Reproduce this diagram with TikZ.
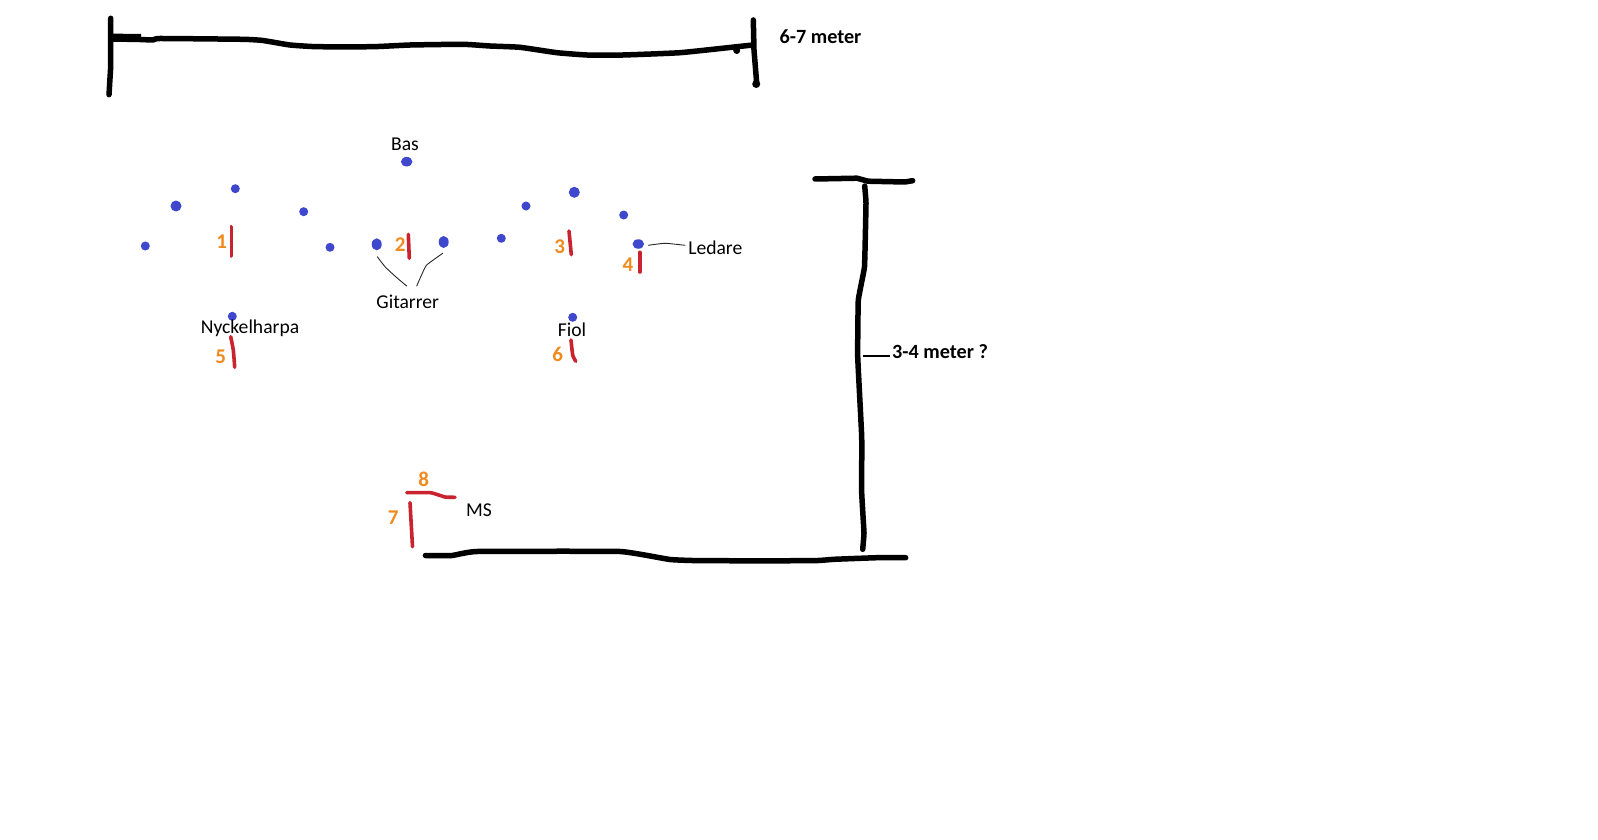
\documentclass[tikz,border=0pt]{standalone}
\usepackage{fontspec}
\setmainfont{Carlito}
\usetikzlibrary{shapes.geometric}
\definecolor{dotblue}{HTML}{3F48CC}
\definecolor{markred}{HTML}{C8232E}
\definecolor{numorange}{HTML}{F08A1D}
\tikzset{
  ink/.style={line width=5.5pt,line cap=round,line join=round,black},
  mark stroke/.style={line width=3.6pt,line cap=round,line join=round,markred},
  thin ink/.style={line width=0.9pt,line cap=round,black!85},
  dot/.style={ellipse,fill=dotblue,inner sep=0pt,minimum width=#1,minimum height=#1},
  dot/.default=9pt,
  wide dot/.style={ellipse,fill=dotblue,inner sep=0pt,minimum width=11.5pt,minimum height=9.5pt},
  tall dot/.style={ellipse,fill=dotblue,inner sep=0pt,minimum width=10pt,minimum height=12pt},
  lbl/.style={inner sep=0pt,font=\fontsize{19.6}{22}\selectfont,text=black},
  dim/.style={inner sep=0pt,font=\fontsize{20.2}{22}\selectfont\bfseries,text=black},
  num/.style={inner sep=0pt,font=\fontsize{21}{22}\selectfont\bfseries,text=numorange},
}
\begin{document}
\begin{tikzpicture}[x=1pt,y=-1pt]
\useasboundingbox (0,0) rectangle (1598,840);
% width dimension
\draw[ink] (110.7,18.3) -- (110.7,66.7) -- (109,94.7);
\draw[ink,line width=8pt,line cap=butt] (112,37.6) -- (141,38);
\draw[ink] plot[smooth,tension=0.25] coordinates {(113,39) (140,39.5) (153,40) (160,38.5) (243,39.3) (263,40.5) (290,45) (317,46.7) (373,46.7) (410,45) (463,44.3) (490,46) (520,47.3) (557,52.7) (587,55) (623,55) (680,52.7) (737,46.7) (753,45)};
\draw[ink] (753.3,20) -- (754,50) -- (756.7,83.3);
\fill (736.7,50.5) circle (3.5pt);
\fill (756.2,84) circle (4pt);
\node[dim] (widthlabel) at (820.5,36.8) {6-7 meter};
% depth dimension
\draw[ink] (815,179) -- (857,178.2) -- (868,181.2) -- (905,182) -- (912.7,180.7);
\draw[ink] plot[smooth,tension=0.15] coordinates {(864.7,186) (866,203.3) (864.5,266.7) (858.3,300) (857.7,356.7) (861.7,436.7) (861.7,493) (864,533) (862.7,549.3)};
\draw[ink] plot[smooth,tension=0.2] coordinates {(425.4,555.5) (452,555.5) (477,551.5) (620,551.5) (670,559.5) (702,560.7) (813,560.7) (834,559.3) (877,557.7) (905.7,557.7)};
\node[dim,anchor=west] (depthlabel) at (892,351.8) {3-4 meter ?};
\coordinate (depthtick) at (862.7,356);
\draw[line width=1.6pt] (depthtick) -- (890,356);
% dots
\node[dot] (d1) at (145.3,246) {};
\node[dot=11pt] (d2) at (176,206) {};
\node[dot] (d3) at (235.3,188.7) {};
\node[dot] (d4) at (303.7,211.7) {};
\node[dot] (d5) at (330,247.3) {};
\node[tall dot] (git1) at (376.7,244.3) {};
\node[tall dot] (git2) at (443.7,242) {};
\node[wide dot] (bas) at (406.7,161.7) {};
\node[dot] (nyck) at (232.3,316.3) {};
\node[dot] (d6) at (501.3,238.3) {};
\node[dot] (d7) at (526,206) {};
\node[dot=11pt] (d8) at (574.3,192.3) {};
\node[dot] (d9) at (623.7,215) {};
\node[wide dot] (led) at (638.3,244) {};
\node[dot] (fiol) at (572.7,317.3) {};
% labels
\node[lbl] (baslabel) at (405,144.5) {Bas};
\node[lbl] (gitlabel) at (407.7,302) {Gitarrer};
\node[lbl] (nycklabel) at (250,328) {Nyckelharpa};
\node[lbl] (fiollabel) at (572,329.5) {Fiol};
\node[lbl] (ledlabel) at (715.3,248) {Ledare};
\node[lbl] (mslabel) at (479,510) {MS};
% leaders
\coordinate (g1a) at (377.3,256.7);
\coordinate (g1b) at (406.7,286);
\coordinate (g2a) at (442.7,253.3);
\coordinate (g2b) at (416.7,286);
\draw[thin ink] plot[smooth,tension=0.3] coordinates {(g1a) (385,266.7) (396,277) (g1b)};
\draw[thin ink] plot[smooth,tension=0.3] coordinates {(g2a) (426.7,265) (422,274) (g2b)};
\coordinate (l1) at (648.3,245.3);
\coordinate (l2) at (685,245.3);
\draw[thin ink] plot[smooth,tension=0.3] coordinates {(l1) (665,243.3) (l2)};
% red marks
\draw[mark stroke] (231.3,226.7) -- (231.3,256);
\draw[mark stroke] (408.3,234.3) -- (409.3,258.3);
\draw[mark stroke] (569,231) -- (571.3,254.7);
\draw[mark stroke] (639.7,252.3) -- (639.7,272);
\draw[mark stroke] plot[smooth,tension=0.3] coordinates {(230.7,336.7) (233.3,350) (234.7,367.3)};
\draw[mark stroke] plot[smooth,tension=0.3] coordinates {(571,340) (572.7,355) (575.7,361.3)};
\draw[mark stroke] (410,502.7) -- (412.5,546.7);
\draw[mark stroke] plot[smooth,tension=0.25] coordinates {(406.8,492.7) (430.7,492.7) (445,497) (455,497.3)};
% numbers
\node[num] (n1) at (221.7,242) {1};
\node[num] (n2) at (400.3,245) {2};
\node[num] (n3) at (559.7,247) {3};
\node[num] (n4) at (628,265) {4};
\node[num] (n5) at (220.7,356.7) {5};
\node[num] (n6) at (557.7,354.3) {6};
\node[num] (n7) at (393.2,517.5) {7};
\node[num] (n8) at (423.6,479.5) {8};
\end{tikzpicture}
\end{document}
